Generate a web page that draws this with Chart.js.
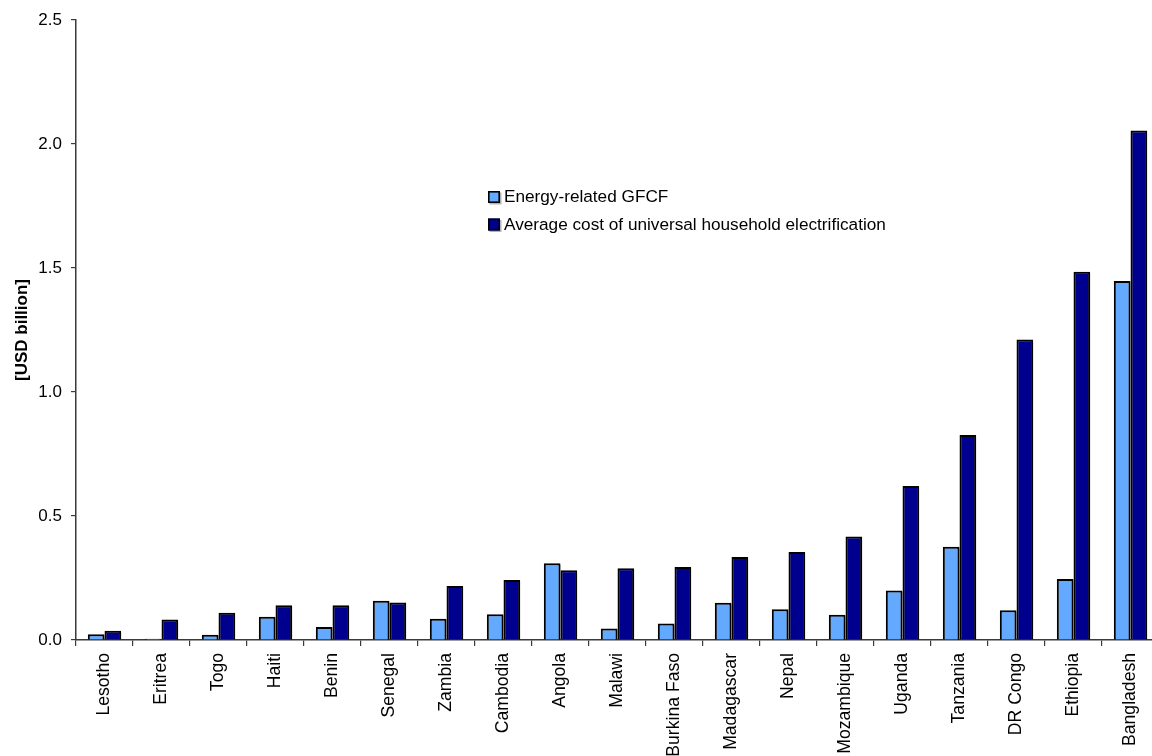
<!DOCTYPE html>
<html>
<head>
<meta charset="utf-8">
<script src="https://cdn.jsdelivr.net/npm/chart.js@4.4.1/dist/chart.umd.min.js"></script>
<style>
  html, body { margin: 0; padding: 0; background: #ffffff; overflow: hidden; }
  #wrap { width: 1160px; height: 756px; }
</style>
</head>
<body>
<div id="wrap"><canvas id="c" width="1160" height="756"></canvas></div>
<script>
const categories = ["Lesotho","Eritrea","Togo","Haiti","Benin","Senegal","Zambia","Cambodia","Angola","Malawi","Burkina Faso","Madagascar","Nepal","Mozambique","Uganda","Tanzania","DR Congo","Ethiopia","Bangladesh"];
const gfcf = [0.023,0.005,0.021,0.094,0.052,0.158,0.086,0.104,0.309,0.046,0.067,0.150,0.124,0.102,0.200,0.376,0.120,0.246,1.448];
const electrification = [0.037,0.083,0.110,0.140,0.140,0.151,0.218,0.242,0.281,0.289,0.294,0.335,0.355,0.417,0.621,0.827,1.212,1.485,2.054];
const seriesNames = ["Energy-related GFCF","Average cost of universal household electrification"];
const yTicks = [0.0,0.5,1.0,1.5,2.0,2.5];

const FONT = "'Liberation Sans', Arial, sans-serif";
const axisColor = '#3a3a3a';

const shadowPlugin = {
  id: 'barShadow',
  beforeDatasetsDraw(chart) {
    const ctx = chart.ctx;
    ctx.save();
    ctx.shadowColor = 'rgba(0,0,0,0.35)';
    ctx.shadowOffsetX = 1.5;
    ctx.shadowOffsetY = 1.5;
    ctx.shadowBlur = 0;
  },
  afterDatasetsDraw(chart) {
    chart.ctx.restore();
  }
};

const legendPlugin = {
  id: 'insideLegend',
  afterDraw(chart) {
    const ctx = chart.ctx;
    const x0 = 488, y0 = 197, rowH = 27.5, box = 12;
    ctx.save();
    chart.data.datasets.forEach((ds, i) => {
      const cy = y0 + i * rowH;
      ctx.fillStyle = 'rgba(0,0,0,0.3)';
      ctx.fillRect(x0 + 1.5, cy - box / 2 + 1.5, box, box);
      ctx.fillStyle = ds.backgroundColor;
      ctx.fillRect(x0, cy - box / 2, box, box);
      ctx.strokeStyle = '#000';
      ctx.lineWidth = 1.6;
      ctx.strokeRect(x0 + 0.8, cy - box / 2 + 0.8, box - 1.6, box - 1.6);
      ctx.fillStyle = '#000';
      ctx.font = '17.2px ' + FONT;
      ctx.textBaseline = 'middle';
      ctx.textAlign = 'left';
      ctx.fillText(ds.label, x0 + 16, cy + 0.5);
    });
    ctx.restore();
  }
};

new Chart(document.getElementById('c'), {
  type: 'bar',
  data: {
    labels: categories,
    datasets: [
      { label: seriesNames[0], data: gfcf, backgroundColor: '#63A9FF', borderColor: '#000000', borderWidth: 2, borderSkipped: 'bottom' },
      { label: seriesNames[1], data: electrification, backgroundColor: '#00008F', borderColor: '#000000', borderWidth: 2, borderSkipped: 'bottom' }
    ]
  },
  options: {
    responsive: false,
    animation: false,
    devicePixelRatio: 1,
    layout: { padding: { top: 20, right: 1, left: 0, bottom: 0 } },
    plugins: {
      legend: { display: false },
      tooltip: { enabled: false }
    },
    datasets: { bar: { categoryPercentage: 0.585, barPercentage: 1.0 } },
    scales: {
      x: {
        type: 'category',
        offset: true,
        grid: { display: true, drawOnChartArea: false, drawTicks: true, tickLength: 6, color: axisColor, offset: true, lineWidth: 1.2 },
        border: { display: true, color: axisColor, width: 1.5 },
        ticks: {
          color: '#000', font: { family: FONT, size: 17.6 },
          minRotation: 90, maxRotation: 90, autoSkip: false, padding: 7
        },
        afterFit(scale) { scale.height = 116; }
      },
      y: {
        min: 0, max: 2.5,
        afterBuildTicks(scale) { scale.ticks = yTicks.map(v => ({ value: v })); },
        grid: { display: true, drawOnChartArea: false, drawTicks: true, tickLength: 5, color: axisColor, lineWidth: 1.2 },
        border: { display: true, color: axisColor, width: 1.5 },
        ticks: {
          color: '#000', font: { family: FONT, size: 17 }, padding: 9,
          callback: (v) => Number(v).toFixed(1)
        },
        title: { display: true, text: '[USD billion]', color: '#000', font: { family: FONT, size: 17, weight: 'bold' }, padding: { top: 12, bottom: 0 } },
        afterFit(scale) { scale.width = 76; }
      }
    }
  },
  plugins: [shadowPlugin, legendPlugin]
});
</script>
</body>
</html>
